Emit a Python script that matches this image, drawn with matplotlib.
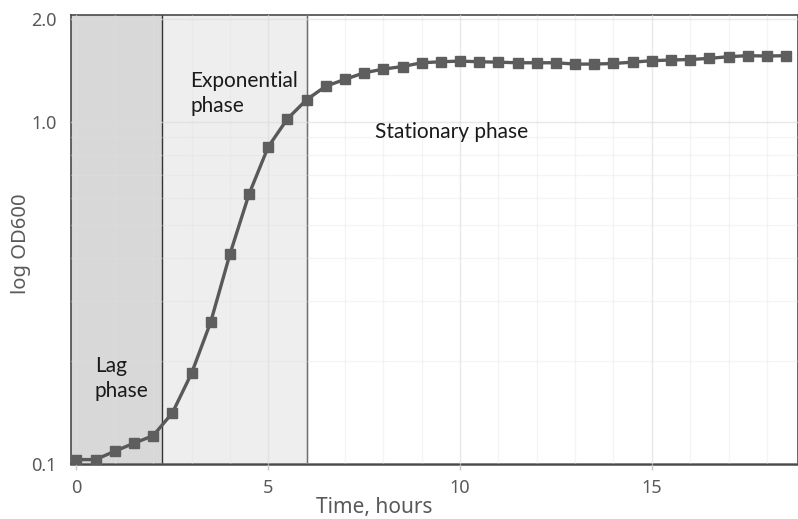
import matplotlib
matplotlib.use("Agg")
import matplotlib.pyplot as plt
from matplotlib.ticker import FixedLocator, FixedFormatter, NullFormatter

# ---- data ----
time_h = [0, 0.5, 1, 1.5, 2, 2.5, 3, 3.5, 4, 4.5, 5, 5.5, 6, 6.5, 7, 7.5, 8, 8.5,
          9, 9.5, 10, 10.5, 11, 11.5, 12, 12.5, 13, 13.5, 14, 14.5, 15, 15.5,
          16, 16.5, 17, 17.5, 18, 18.5]
od600 = [0.103, 0.103, 0.109, 0.115, 0.121, 0.141, 0.184, 0.260, 0.410, 0.615,
         0.845, 1.02, 1.16, 1.27, 1.33, 1.39, 1.425, 1.45, 1.487, 1.497, 1.504,
         1.497, 1.493, 1.487, 1.487, 1.487, 1.474, 1.474, 1.48, 1.493, 1.508,
         1.515, 1.52, 1.532, 1.549, 1.56, 1.556, 1.56]

phase_bounds = [2.23, 6.0]
phase_labels = ["Lag\nphase", "Exponential\nphase", "Stationary phase"]
phase_label_pos = [(0.48, 0.178), (2.96, 1.21), (7.78, 0.933)]

x_ticks = [0, 5, 10, 15]
y_ticks = [0.1, 1.0, 2.0]
y_tick_labels = ["0.1", "1.0", "2.0"]
y_minor = [0.2, 0.3, 0.4, 0.5, 0.6, 0.7, 0.8, 0.9]

xmin, xmax = -0.15, 18.81
ymin, ymax = 0.1, 2.05

gray_text = "#595959"
plt.rcParams["font.family"] = ["Noto Sans", "DejaVu Sans"]

fig = plt.figure(figsize=(7.98, 5.19), dpi=100)
ax = fig.add_axes([0.0886, 0.106, 0.9114, 0.865])
ax.set_yscale("log")
ax.set_xlim(xmin, xmax)
ax.set_ylim(ymin, ymax)

# phase shading
ax.axvspan(xmin, phase_bounds[0], color="#d8d8d8", zorder=0, lw=0)
ax.axvspan(phase_bounds[0], phase_bounds[1], color="#eeeeee", zorder=0, lw=0)
for b in phase_bounds:
    ax.axvline(b, color="#333333", lw=1.0, zorder=1.5)

# grid
ax.xaxis.set_major_locator(FixedLocator(x_ticks))
ax.xaxis.set_minor_locator(FixedLocator([v for v in range(0, 19) if v % 5 != 0]))
ax.yaxis.set_major_locator(FixedLocator(y_ticks))
ax.yaxis.set_major_formatter(FixedFormatter(y_tick_labels))
ax.yaxis.set_minor_locator(FixedLocator(y_minor))
ax.yaxis.set_minor_formatter(NullFormatter())
ax.grid(True, which="major", color="#dcdcdc", lw=1.0, alpha=0.65, zorder=1)
ax.grid(True, which="minor", color="#e2e2e2", lw=1.0, alpha=0.35, zorder=1)
ax.set_axisbelow(False)

# data line
ax.plot(time_h, od600, color="#595959", lw=2.4, marker="s", markersize=7,
        markerfacecolor="#5e5e5e", markeredgecolor="#5e5e5e",
        solid_joinstyle="round", zorder=3)

# annotations
for (tx, ty), lab in zip(phase_label_pos, phase_labels):
    ax.text(tx, ty, lab, fontsize=15, family=["Lato", "DejaVu Sans"],
            color="#1a1a1a", ha="left", va="center", linespacing=1.3, zorder=4)

# spines
for s in ["top", "left", "right"]:
    ax.spines[s].set_color("#4a4a4a")
    ax.spines[s].set_linewidth(1.2)
ax.spines["bottom"].set_color("#4a4a4a")
ax.spines["bottom"].set_linewidth(1.8)

ax.tick_params(axis="x", which="major", length=4, color="#c8c8c8", width=1,
               labelsize=13, labelcolor=gray_text, pad=7)
ax.tick_params(axis="x", which="minor", length=0)
ax.tick_params(axis="y", which="both", length=0, labelsize=13,
               labelcolor=gray_text, pad=10)

ax.set_xlabel("Time, hours", fontsize=15, color=gray_text,
              ha="center", va="center")
ax.xaxis.set_label_coords(0.418, -0.097)
ax.set_ylabel("log OD600", fontsize=14.5, color=gray_text,
              ha="center", va="center")
ax.yaxis.set_label_coords(-0.068, 0.49)

fig.savefig("out.png", dpi=100)
